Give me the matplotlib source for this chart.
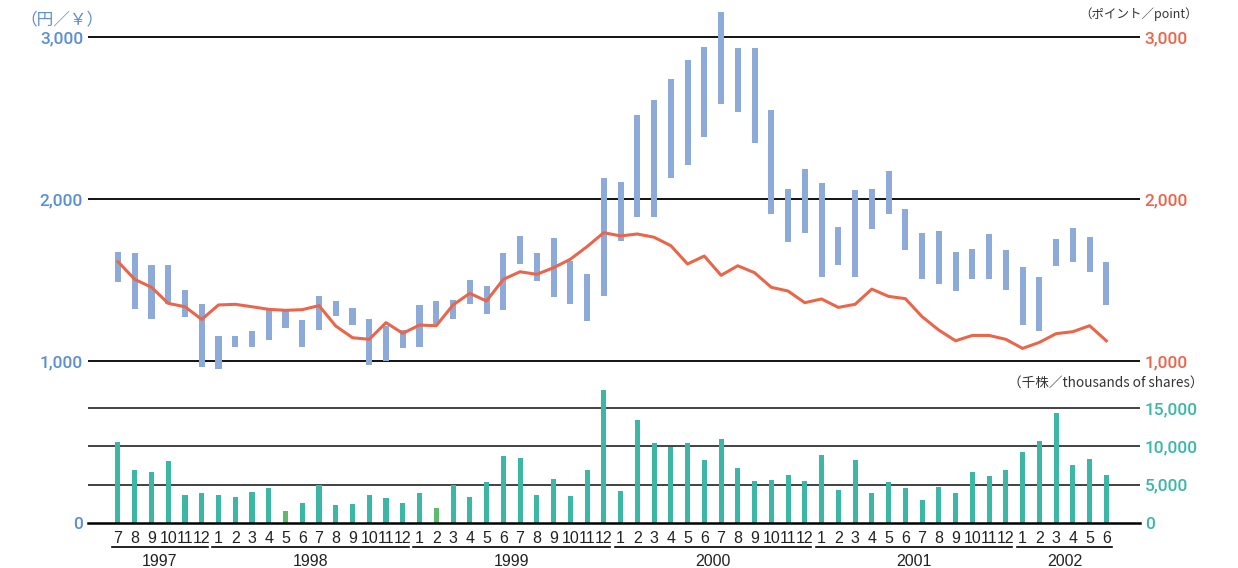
import numpy as np
import matplotlib.pyplot as plt
import matplotlib.transforms as mtransforms

# monthly share price range, index and volume, Jul 1997 - Jun 2002
years = [1997, 1998, 1999, 2000, 2001, 2002]
months_per_year = [6, 12, 12, 12, 12, 6]
months = list(range(7, 13)) + list(range(1, 13)) * 4 + list(range(1, 7))

# share price, yen
price_high = [1675, 1665, 1591, 1591, 1438, 1354,
              1156, 1156, 1185, 1325, 1320, 1253, 1403, 1370, 1325, 1257, 1216, 1191,
              1346, 1370, 1375, 1500, 1463, 1665, 1772, 1665, 1761, 1619, 1535, 2128,
              2103, 2516, 2611, 2739, 2856, 2940, 3152, 2934, 2932, 2549, 2062, 2185,
              2097, 1825, 2056, 2062, 2173, 1938, 1788, 1805, 1671, 1691, 1782, 1685,
              1582, 1521, 1753, 1821, 1765, 1613]
price_low = [1488, 1319, 1261, 1354, 1270, 963,
             949, 1086, 1088, 1128, 1202, 1088, 1193, 1278, 1220, 975, 1002, 1080,
             1088, 1228, 1259, 1354, 1288, 1317, 1597, 1496, 1397, 1354, 1249, 1401,
             1743, 1891, 1891, 2128, 2208, 2383, 2588, 2539, 2348, 1909, 1735, 1792,
             1517, 1591, 1521, 1817, 1909, 1687, 1508, 1477, 1432, 1508, 1506, 1436,
             1222, 1187, 1588, 1609, 1551, 1346]

# index, points
index_pts = [1613, 1504, 1455, 1356, 1335, 1257,
             1346, 1350, 1335, 1319, 1313, 1317, 1342, 1216, 1144, 1134, 1237, 1171,
             1222, 1218, 1346, 1418, 1370, 1504, 1551, 1535, 1576, 1628, 1706, 1792,
             1772, 1784, 1764, 1712, 1599, 1648, 1529, 1588, 1545, 1455, 1432, 1360,
             1383, 1331, 1350, 1444, 1399, 1385, 1274, 1191, 1125, 1158, 1158, 1134,
             1078, 1115, 1169, 1181, 1218, 1125]

# trading volume, thousands of shares
volume = [10600, 6950, 6700, 8150, 3700, 3950,
          3700, 3450, 4100, 4600, 1600, 2650, 4950, 2400, 2500, 3700, 3300, 2650,
          3950, 2000, 4950, 3450, 5400, 8800, 8500, 3700, 5800, 3550, 6850, 17400,
          4200, 13500, 10500, 9850, 10500, 8250, 11000, 7200, 5500, 5650, 6300, 5500,
          8900, 4350, 8250, 3950, 5400, 4600, 3050, 4750, 3850, 6700, 6150, 6850,
          9300, 10750, 14400, 7600, 8400, 6300]
low_volume_months = [10, 19]

blue = '#5b8ed3'
bar_blue = '#8eaad8'
red = '#e9664b'
teal = '#3cb7a6'
green = '#5fbb6b'
cjk = ['Noto Sans CJK JP', 'DejaVu Sans']
narrow = ['Liberation Sans Narrow', 'Liberation Sans']
num_font = ['Roboto', 'Liberation Sans']


def style_labels(labels, family, weight='normal'):
    for lab in labels:
        lab.set_family(family)
        lab.set_fontweight(weight)


W, H = 1238, 568
fig = plt.figure(figsize=(W / 100, H / 100), dpi=100)

x = np.arange(len(months))
xlim = (-1.79, 61.01)
left, right = 88 / W, (1140 - 88) / W

# upper panel: price range bars + index line
ax = fig.add_axes([left, (H - 380) / H, right, 380 / H])
ax.set_xlim(*xlim)
ax.set_ylim(883, 3228)
for v in [1000, 2000, 3000]:
    ax.axhline(v, color='black', lw=1.3, zorder=1)
ax.bar(x, np.array(price_high) - np.array(price_low), bottom=price_low,
       width=0.36, color=bar_blue, zorder=2)
ax.set_yticks([1000, 2000, 3000], ['1,000', '2,000', '3,000'])
ax.tick_params(axis='y', length=0, pad=3.5, labelcolor=blue, labelsize=12.5)
ax.set_xticks([])
style_labels(ax.get_yticklabels(), num_font, 'medium')

ax2 = ax.twinx()
ax2.set_ylim(ax.get_ylim())
ax2.plot(x, index_pts, color=red, lw=2.2, zorder=3)
ax2.set_yticks([1000, 2000, 3000], ['1,000', '2,000', '3,000'])
ax2.tick_params(axis='y', length=0, pad=3.5, labelcolor=red, labelsize=12.5)
style_labels(ax2.get_yticklabels(), num_font, 'medium')

for a in (ax, ax2):
    for s in a.spines.values():
        s.set_visible(False)
    a.patch.set_alpha(0)

# lower panel: volume
axv = fig.add_axes([left, (H - 523) / H, right, 138 / H])
axv.set_xlim(*xlim)
axv.set_ylim(0, 18000)
for v in [5000, 10000, 15000]:
    axv.axhline(v, color='#222222', lw=1.2, zorder=1)
axv.axhline(0, color='black', lw=1.8, zorder=3, clip_on=False)
vol_colors = [green if i in low_volume_months else teal for i in x]
axv.bar(x, volume, width=0.3, color=vol_colors, zorder=2)
axv.set_yticks([0], ['0'])
axv.tick_params(axis='y', length=0, pad=3.5, labelcolor=blue, labelsize=12.5)
axv.set_xticks(x, [str(m) for m in months])
axv.tick_params(axis='x', length=0, pad=5.5, labelsize=11.5, labelcolor='#222222')
style_labels(axv.get_xticklabels(), narrow)
style_labels(axv.get_yticklabels(), num_font, 'medium')

axv2 = axv.twinx()
axv2.set_ylim(axv.get_ylim())
axv2.set_yticks([0, 5000, 10000, 15000], ['0', '5,000', '10,000', '15,000'])
axv2.tick_params(axis='y', length=0, pad=3.5, labelcolor=teal, labelsize=12.5)
style_labels(axv2.get_yticklabels(), num_font, 'medium')
for a in (axv, axv2):
    for s in a.spines.values():
        s.set_visible(False)
    a.patch.set_alpha(0)

# year brackets under the month labels
trans = mtransforms.blended_transform_factory(axv.transData, fig.transFigure)
start = 0
for yr, n in zip(years, months_per_year):
    x0, x1 = start - 0.36, start + n - 1 + 0.36
    axv.plot([x0, x1], [(H - 547) / H] * 2, color='black', lw=1.2,
             transform=trans, clip_on=False)
    axv.text((start + start + n - 1) / 2, (H - 561) / H, str(yr), transform=trans,
             ha='center', va='center', fontsize=11.5, family=narrow, color='#222222')
    start += n

# unit captions
fig.text(62 / W, 1 - 20 / H, '（円／￥）', ha='center', va='center',
         fontsize=12, color=blue, family=cjk)
fig.text(1198 / W, 1 - 14 / H, '（ポイント／point）', ha='right', va='center',
         fontsize=9, color='#333333', family=cjk)
fig.text(1204 / W, 1 - 383 / H, '（千株／thousands of shares）', ha='right',
         va='center', fontsize=9.8, color='#333333', family=cjk)

fig.savefig('out.png', dpi=100)
